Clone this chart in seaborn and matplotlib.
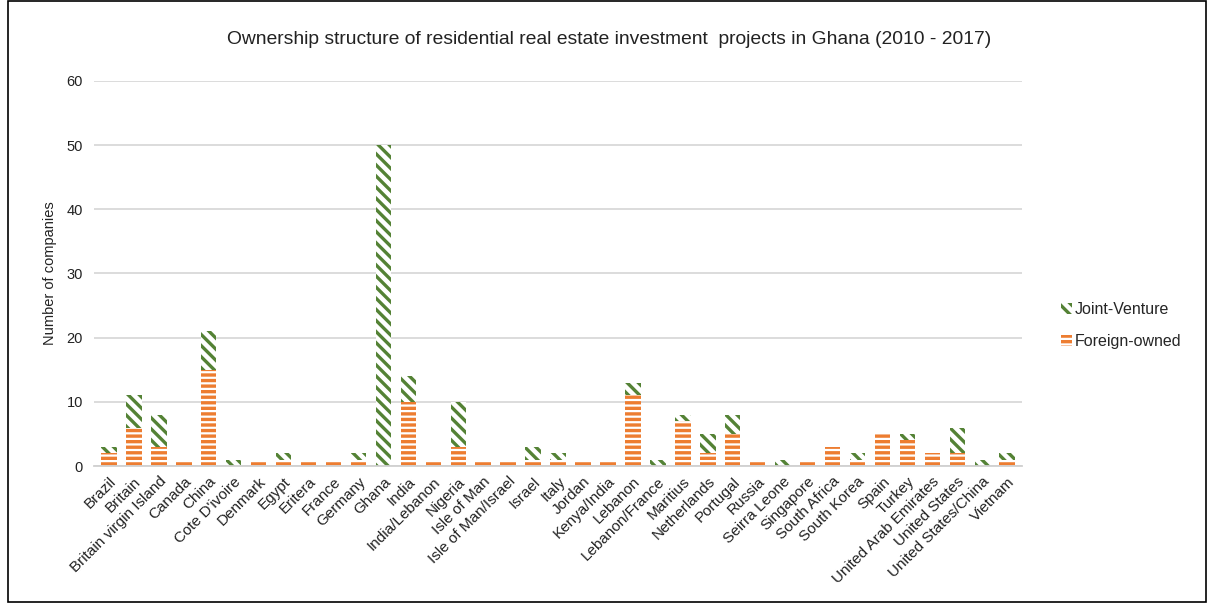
import matplotlib
matplotlib.use("Agg")
import matplotlib.pyplot as plt
from matplotlib.patches import Patch, Rectangle
import numpy as np
import pandas as pd
import seaborn as sns

countries = [
    "Brazil", "Britain", "Britain virgin Island", "Canada", "China", "Cote D'ivoire",
    "Denmark", "Egypt", "Eritera", "France", "Germany", "Ghana", "India",
    "India/Lebanon", "Nigeria", "Isle of Man", "Isle of Man/Israel", "Israel",
    "Italy", "Jordan", "Kenya/India", "Lebanon", "Lebanon/France", "Maritius",
    "Netherlands", "Portugal", "Russia", "Seirra Leone", "Singapore",
    "South Africa", "South Korea", "Spain", "Turkey", "United Arab Emirates",
    "United States", "United States/China", "Vietnam",
]
foreign_owned = [2, 6, 3, 1, 15, 0, 1, 1, 1, 1, 1, 0, 10, 1, 3, 1, 1, 1, 1, 1, 1,
                 11, 0, 7, 2, 5, 1, 0, 1, 3, 1, 5, 4, 2, 2, 0, 1]
joint_venture = [1, 5, 5, 0, 6, 1, 0, 1, 0, 0, 1, 50, 4, 0, 7, 0, 0, 2, 1, 0, 0,
                 2, 1, 1, 3, 3, 0, 1, 0, 0, 1, 0, 1, 0, 4, 1, 1]
y_ticks = [0, 10, 20, 30, 40, 50, 60]

GREEN = "#548235"
ORANGE = "#ED7D31"

df = pd.DataFrame({
    "country": countries,
    "foreign": foreign_owned,
    "total": np.array(foreign_owned) + np.array(joint_venture),
})

sns.set_theme(style="white")
plt.rcParams["font.family"] = ["Liberation Sans", "DejaVu Sans"]
plt.rcParams["hatch.linewidth"] = 2.4

fig = plt.figure(figsize=(12.11, 6.03), dpi=100)
ax = fig.add_axes([0.0776, 0.227, 0.7665, 0.639])

# Full stack (joint-venture on top), then the foreign-owned part over it
sns.barplot(data=df, x="country", y="total", ax=ax, width=0.62,
            color="white", edgecolor=GREEN, linewidth=0, hatch="\\\\\\",
            saturation=1, errorbar=None)
sns.barplot(data=df, x="country", y="foreign", ax=ax, width=0.62,
            color="white", edgecolor=ORANGE, linewidth=0, hatch="---",
            saturation=1, errorbar=None)

ax.set_ylim(0, 60)
ax.set_yticks(y_ticks)
ax.set_xlim(-0.6, len(countries) - 0.4)
ax.yaxis.grid(True, color="#d9d9d9", linewidth=1.3)
ax.set_axisbelow(True)
for side in ["left", "right", "top"]:
    ax.spines[side].set_visible(False)
ax.spines["bottom"].set_color("#d0d0d0")
ax.spines["bottom"].set_linewidth(1.3)
ax.tick_params(axis="both", length=0, colors="#222222")
ax.tick_params(axis="x", labelsize=11, pad=6)
ax.tick_params(axis="y", labelsize=10.5, pad=8)
plt.setp(ax.get_xticklabels(), rotation=45, ha="right", rotation_mode="anchor")
ax.set_xlabel("")
ax.set_ylabel("Number of companies", fontsize=10.5, color="#222222", labelpad=7)

fig.text(0.503, 0.935, "Ownership structure of residential real estate investment  projects in Ghana (2010 - 2017)",
         ha="center", va="center", fontsize=13.9, color="#222222")

handles = [
    Patch(facecolor="white", edgecolor=GREEN, linewidth=0, hatch="\\\\\\", label="Joint-Venture"),
    Patch(facecolor="white", edgecolor=ORANGE, linewidth=0, hatch="---", label="Foreign-owned"),
]
fig.legend(handles=handles, loc="center left", bbox_to_anchor=(0.864, 0.46),
           frameon=False, fontsize=11.5, handlelength=0.7, handleheight=0.7,
           handletextpad=0.2, labelspacing=1.1)

fig.add_artist(Rectangle((0.0066, 0.002), 0.9895, 0.996, transform=fig.transFigure,
                         fill=False, edgecolor="black", linewidth=1.2))

fig.savefig("out.png", dpi=100)
